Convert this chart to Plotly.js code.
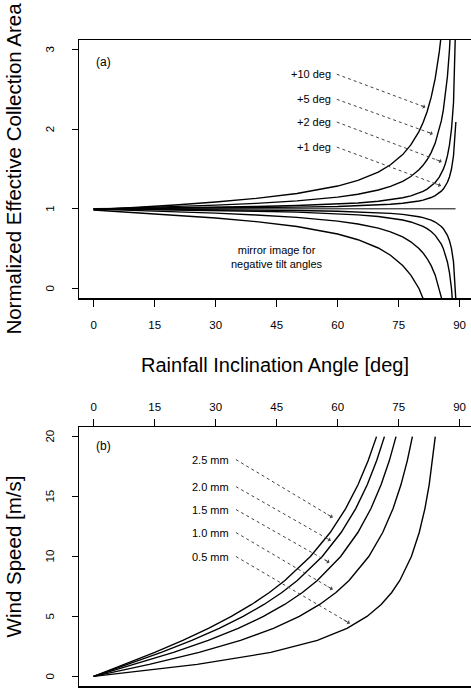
<!DOCTYPE html>
<html>
<head>
<meta charset="utf-8">
<script src="https://cdn.plot.ly/plotly-3.0.1.min.js"></script>
<style>html,body{margin:0;padding:0;background:#fff;}#chart{width:471px;height:690px;}</style>
</head>
<body>
<div id="chart"></div>
<script>
// ---------- Panel (a): normalized effective collection area vs rainfall inclination ----------
const tiltLabels = ["+10 deg", "+5 deg", "+2 deg", "+1 deg"];

const angPos10 = [0,10,20,30,40,50,60,65,70,73,76,78,80,81,82,83,84,85,85.5];
const areaPos10 = [0.985,1.015,1.048,1.085,1.131,1.192,1.286,1.357,1.462,1.553,1.681,1.802,1.970,2.081,2.220,2.399,2.637,2.970,3.191];
const angNeg10 = [0,10,20,30,40,50,60,65,70,73,76,78,80,81,82];
const areaNeg10 = [0.985,0.954,0.922,0.885,0.839,0.778,0.684,0.612,0.508,0.417,0.288,0.168,0.000,-0.111,-0.250];

const angPos5 = [0,10,20,30,40,50,60,65,70,73,76,78,80,81,82,83,84,85,85.5,86,86.5,87,87.5,88];
const areaPos5 = [0.996,1.011,1.028,1.046,1.069,1.100,1.147,1.183,1.236,1.281,1.346,1.406,1.490,1.546,1.616,1.706,1.825,1.992,2.104,2.242,2.421,2.659,2.992,3.492];
const angNeg5 = [0,10,20,30,40,50,60,65,70,73,76,78,80,81,82,83,84,85,85.5,86];
const areaNeg5 = [0.996,0.981,0.964,0.946,0.923,0.892,0.845,0.809,0.757,0.711,0.647,0.586,0.502,0.446,0.376,0.286,0.167,0.000,-0.111,-0.250];

const angPos2 = [0,10,20,30,40,50,60,65,70,73,76,78,80,81,82,83,84,85,85.5,86,86.5,87,87.5,88,88.5,89,89.3];
const areaPos2 = [0.999,1.005,1.012,1.019,1.029,1.041,1.060,1.074,1.095,1.113,1.139,1.163,1.197,1.220,1.248,1.284,1.331,1.398,1.443,1.498,1.570,1.665,1.799,1.999,2.332,2.998,3.855];
const angNeg2 = [0,10,20,30,40,50,60,65,70,73,76,78,80,81,82,83,84,85,85.5,86,86.5,87,87.5,88,88.5];
const areaNeg2 = [0.999,0.993,0.987,0.979,0.970,0.958,0.939,0.924,0.903,0.885,0.859,0.835,0.801,0.779,0.751,0.715,0.667,0.600,0.556,0.500,0.429,0.333,0.200,0.000,-0.334];

const angPos1 = [0,10,20,30,40,50,60,65,70,73,76,78,80,81,82,83,84,85,85.5,86,86.5,87,87.5,88,88.5,89,89.08];
const areaPos1 = [1.000,1.003,1.006,1.010,1.015,1.021,1.030,1.037,1.048,1.057,1.070,1.082,1.099,1.110,1.124,1.142,1.166,1.199,1.222,1.249,1.285,1.333,1.400,1.500,1.666,2.000,2.090];
const angNeg1 = [0,10,20,30,40,50,60,65,70,73,76,78,80,81,82,83,84,85,85.5,86,86.5,87,87.5,88,88.5,89,89.2];
const areaNeg1 = [1.000,0.997,0.994,0.990,0.985,0.979,0.970,0.962,0.952,0.943,0.930,0.918,0.901,0.890,0.876,0.858,0.834,0.800,0.778,0.750,0.715,0.667,0.600,0.500,0.334,0.000,-0.250];

const angZero = [0, 89];
const areaZero = [1, 1];

// label positions (text right end) and arrow targets for panel (a)
const tiltLabelX = [58.8, 58.8, 58.8, 58.8];
const tiltLabelY = [2.69, 2.375, 2.09, 1.775];
const tiltLeadStartX = [59.8, 59.8, 59.8, 59.8];
const tiltArrowX = [81.6, 83.4, 85.6, 85.4];
const tiltArrowY = [2.275, 1.94, 1.59, 1.29];

// ---------- Panel (b): wind speed vs rainfall inclination angle ----------
const dropLabels = ["2.5 mm", "2.0 mm", "1.5 mm", "1.0 mm", "0.5 mm"];
const windSpeed = [0,1,2,3,4,5,6,7,8,10,12,14,16,18,20];
const ang25 = [0,7.64,15.03,21.93,28.23,33.87,38.85,43.22,47.03,53.31,58.17,61.98,65.04,67.52,69.57];
const ang20 = [0,8.50,16.64,24.15,30.87,36.77,41.89,46.30,50.09,56.22,60.86,64.46,67.31,69.61,71.51];
const ang15 = [0,10.12,19.65,28.18,35.54,41.76,46.97,51.34,55.01,60.75,64.98,68.20,70.71,72.72,74.36];
const ang10 = [0,13.68,25.94,36.12,44.22,50.58,55.59,59.59,62.81,67.66,71.09,73.64,75.59,77.14,78.39];
const ang05 = [0,25.46,43.57,55.01,62.30,67.22,70.71,73.30,75.29,78.14,80.07,81.47,82.52,83.35,84.01];

const dropLabelX = [33.9, 33.9, 33.9, 33.9, 33.9];
const dropLabelY = [18.08, 15.83, 13.92, 12.0, 10.0];
const dropLeadStartX = [35.0, 35.0, 35.0, 35.0, 35.0];
const dropArrowX = [58.8, 58.3, 58.0, 58.8, 63.0];
const dropArrowY = [13.25, 11.33, 9.5, 7.25, 4.42];

const tickVals = [0, 15, 30, 45, 60, 75, 90];
const tickValsA = [0, 1, 2, 3];
const tickValsB = [0, 5, 10, 15, 20];

// ---------- build ----------
const FONT = "Liberation Sans, Arial, Helvetica, sans-serif";
const curve = {color: "#000", width: 1.4};
function line(x, y, xa, ya, st) {
  return {x: x, y: y, xaxis: xa, yaxis: ya, type: "scatter", mode: "lines",
          line: st || curve, hoverinfo: "skip", showlegend: false};
}
const traces = [
  line(angZero, areaZero, "x", "y", {color: "#000", width: 1}),
  line(angPos10, areaPos10, "x", "y"), line(angNeg10, areaNeg10, "x", "y"),
  line(angPos5, areaPos5, "x", "y"), line(angNeg5, areaNeg5, "x", "y"),
  line(angPos2, areaPos2, "x", "y"), line(angNeg2, areaNeg2, "x", "y"),
  line(angPos1, areaPos1, "x", "y"), line(angNeg1, areaNeg1, "x", "y"),
  line(ang25, windSpeed, "x2", "y2"), line(ang20, windSpeed, "x2", "y2"),
  line(ang15, windSpeed, "x2", "y2"), line(ang10, windSpeed, "x2", "y2"),
  line(ang05, windSpeed, "x2", "y2")
];
const leader = {color: "#444", width: 1, dash: "dot"};
const annotations = [];
function addLabels(labels, lx, ly, sx, axX, axY, xa, ya) {
  for (let i = 0; i < labels.length; i++) {
    traces.push(line([sx[i], axX[i]], [ly[i], axY[i]], xa, ya, leader));
    annotations.push({x: lx[i], y: ly[i], xref: xa, yref: ya, text: labels[i],
      showarrow: false, xanchor: "right", yanchor: "middle",
      font: {family: FONT, size: 11, color: "#000"}});
    const f = 0.07;
    annotations.push({x: axX[i], y: axY[i], xref: xa, yref: ya, text: "",
      showarrow: true, axref: xa, ayref: ya,
      ax: axX[i] + f * (sx[i] - axX[i]), ay: axY[i] + f * (ly[i] - axY[i]),
      arrowhead: 1, arrowsize: 1, arrowwidth: 0.8, arrowcolor: "#444", standoff: 0});
  }
}
addLabels(tiltLabels, tiltLabelX, tiltLabelY, tiltLeadStartX, tiltArrowX, tiltArrowY, "x", "y");
addLabels(dropLabels, dropLabelX, dropLabelY, dropLeadStartX, dropArrowX, dropArrowY, "x2", "y2");

// rotated y tick labels (R style: parallel to the axis), placed left of the plot area
const PLOT_W = 471 - 79;
function yTickLabels(vals, ya) {
  vals.forEach(function (v) {
    annotations.push({x: -29 / PLOT_W, xref: "paper", y: v, yref: ya, text: String(v),
      showarrow: false, xanchor: "center", yanchor: "middle", textangle: -90,
      font: {family: FONT, size: 11.5, color: "#000"}});
  });
}
yTickLabels(tickValsA, "y");
yTickLabels(tickValsB, "y2");

annotations.push({x: 0, y: 2.85, xref: "x", yref: "y", text: "(a)", showarrow: false,
  xanchor: "left", yanchor: "middle", font: {family: FONT, size: 12, color: "#000"}});
annotations.push({x: 0, y: 19.2, xref: "x2", yref: "y2", text: "(b)", showarrow: false,
  xanchor: "left", yanchor: "middle", font: {family: FONT, size: 12, color: "#000"}});
annotations.push({x: 45, y: 0.39, xref: "x", yref: "y", text: "mirror image for<br>negative tilt angles",
  showarrow: false, xanchor: "center", yanchor: "middle",
  font: {family: FONT, size: 11, color: "#000"}});

const axBase = {showline: true, linecolor: "#000", linewidth: 1.5, showgrid: false, zeroline: false,
  ticks: "outside", ticklen: 7, tickwidth: 1, tickcolor: "#000",
  tickfont: {family: FONT, size: 11.5, color: "#000"}, fixedrange: true};

const layout = {
  width: 471, height: 690,
  margin: {l: 79, r: 0, t: 40, b: 4, pad: 0},
  paper_bgcolor: "#fff", plot_bgcolor: "#fff",
  font: {family: FONT, color: "#000"},
  showlegend: false,
  xaxis: Object.assign({}, axBase, {domain: [0, 1], anchor: "y", range: [-3.6, 92.8],
    tickvals: tickVals, mirror: true, ticklabelstandoff: 9,
    title: {text: "Rainfall Inclination Angle [deg]", font: {family: FONT, size: 20, color: "#000"}, standoff: 27}}),
  yaxis: Object.assign({}, axBase, {domain: [0.6006, 1], anchor: "x", range: [-0.12, 3.12],
    tickvals: tickValsA, ticklen: 6, showticklabels: false,
    title: {text: "Normalized Effective Collection Area", font: {family: FONT, size: 20.5, color: "#000"}, standoff: 44}}),
  xaxis2: Object.assign({}, axBase, {domain: [0, 1], anchor: "y2", side: "top", range: [-3.6, 92.8],
    tickvals: tickVals, mirror: true, ticklabelstandoff: 3}),
  yaxis2: Object.assign({}, axBase, {domain: [0, 0.4009], anchor: "x2", range: [-0.8, 20.8],
    tickvals: tickValsB, ticklen: 6, showticklabels: false,
    title: {text: "Wind Speed [m/s]", font: {family: FONT, size: 20.5, color: "#000"}, standoff: 44}}),
  annotations: annotations
};

Plotly.newPlot("chart", traces, layout, {displayModeBar: false, staticPlot: true});
</script>
</body>
</html>
